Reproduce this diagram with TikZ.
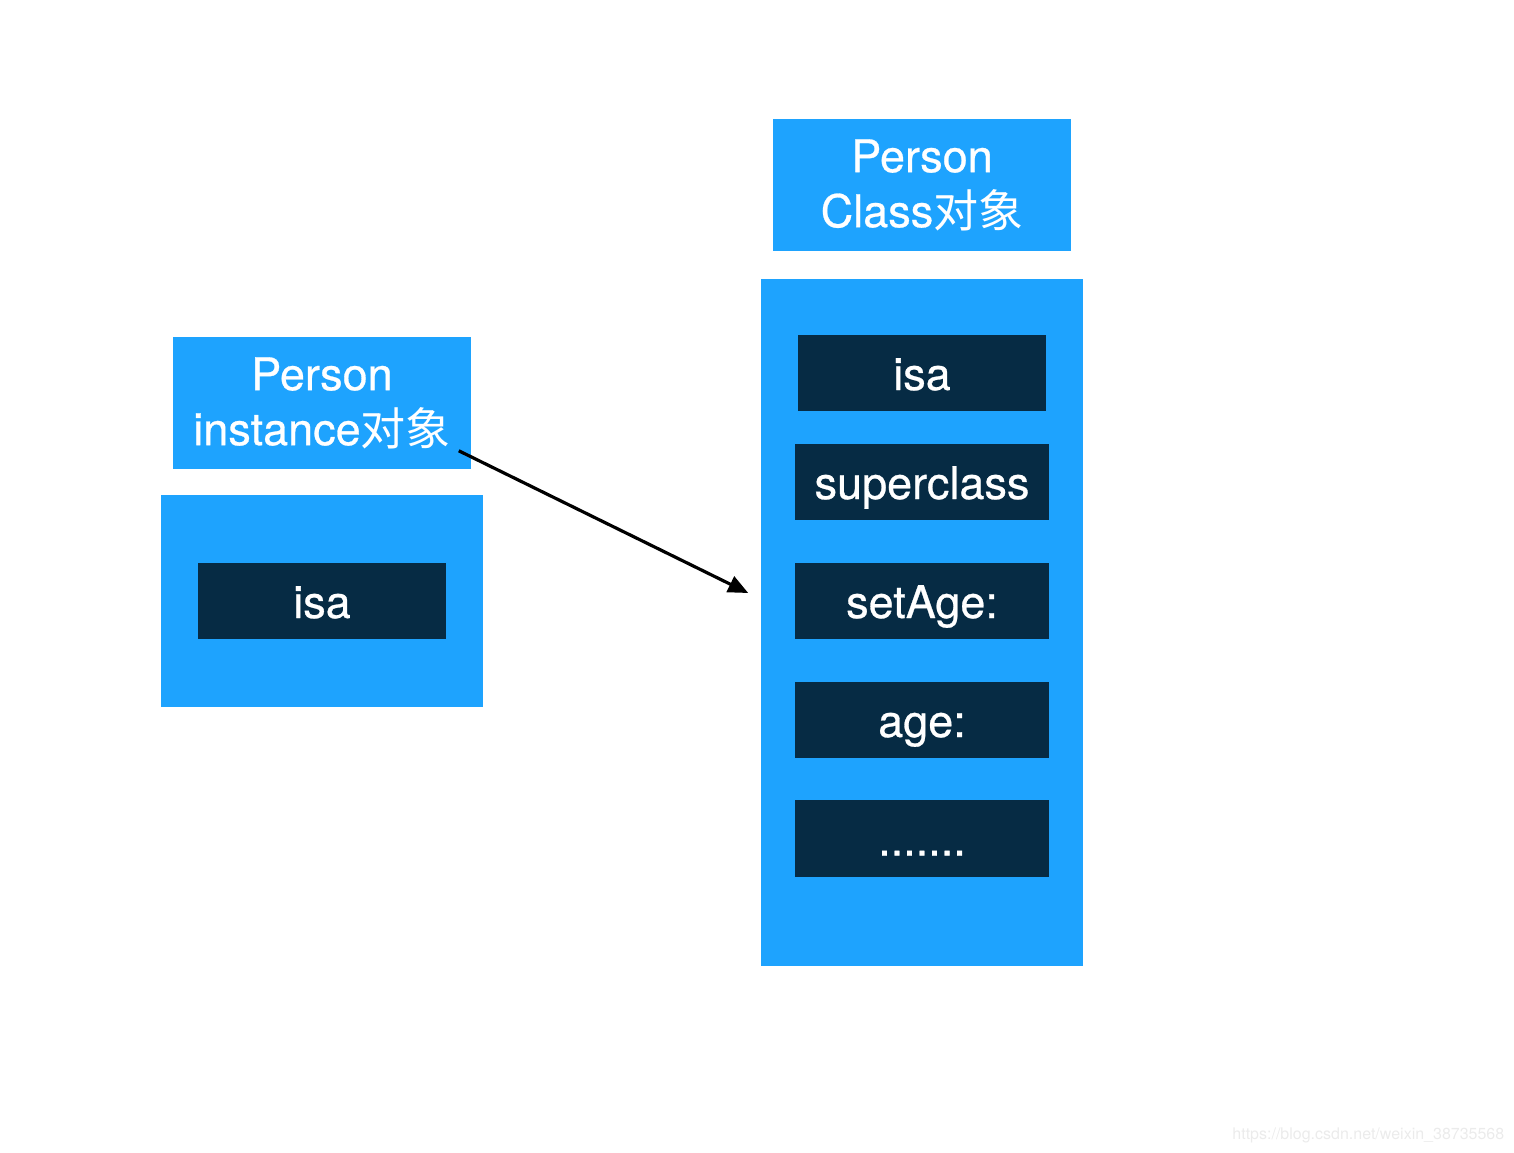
\documentclass[tikz,border=0pt]{standalone}
\usepackage{fontspec}
\setmainfont{TeX Gyre Heros}[FakeBold=0.6]
\newfontfamily\cjk{Noto Sans CJK SC}
\newfontfamily\plainsans{TeX Gyre Heros}
\usetikzlibrary{calc,arrows.meta}
\definecolor{objblue}{RGB}{30,163,254}
\definecolor{slotnavy}{RGB}{6,43,68}
\tikzset{every picture/.style={line width=0.75pt},
  titlebox/.style={fill=objblue, text=white, minimum width=149pt, minimum height=66pt, align=center,
    font=\fontsize{22.5pt}{27.5pt}\selectfont, inner sep=0pt},
  bodybox/.style={fill=objblue, minimum width=161pt, inner sep=0pt},
  slotbox/.style={fill=slotnavy, text=white, minimum height=38pt, text height=17pt, text depth=0pt,
    font=\fontsize{22.5pt}{27.5pt}\selectfont, inner sep=0pt}}

\begin{document}
\begin{tikzpicture}[x=0.5pt,y=0.5pt,yscale=-1,xscale=1]
\useasboundingbox (0,0) rectangle (1514,1152);

%Shape: Rectangle instance body
\node [bodybox, minimum height=106pt] (instbody) at (322,601) {};
% Text Node
\node [titlebox] (insttitle) at (322,403) {Person\\instance{\cjk 对象}};
% Text Node
\node [slotbox, minimum width=124pt] (instisa) at (322,601) {isa};

%Shape: Rectangle class body
\node [bodybox, minimum height=343.5pt] (clsbody) at (922,622.5) {};
% Text Node
\node [titlebox] (clstitle) at (922,185) {Person\\Class{\cjk 对象}};
% Text Node
\node [slotbox, minimum width=124pt] (clsisa) at (922,373) {isa};
\node [slotbox, minimum width=127pt] (clssuper) at (922,482) {superclass};
\node [slotbox, minimum width=127pt] (clsset) at (922,601) {setAge:};
\node [slotbox, minimum width=127pt] (clsage) at (922,720) {age:};
\node [slotbox, minimum width=127pt, minimum height=38.5pt] (clsmore) at (922,838.5) {.......};

%Straight Lines isa pointer
\draw [line width=1.6pt, -{Triangle[length=10pt,width=8.5pt]}]
  ($(insttitle.south east)+(-13,-19)$) -- ($(clsbody.west)+(-12,-29.5)$);

% Text Node
\node [anchor=base east, text=black!8, font=\plainsans\fontsize{8pt}{9.6pt}\selectfont, inner sep=0pt] (mark) at (1505,1139) {https://blog.csdn.net/weixin\_38735568};

\end{tikzpicture}
\end{document}
